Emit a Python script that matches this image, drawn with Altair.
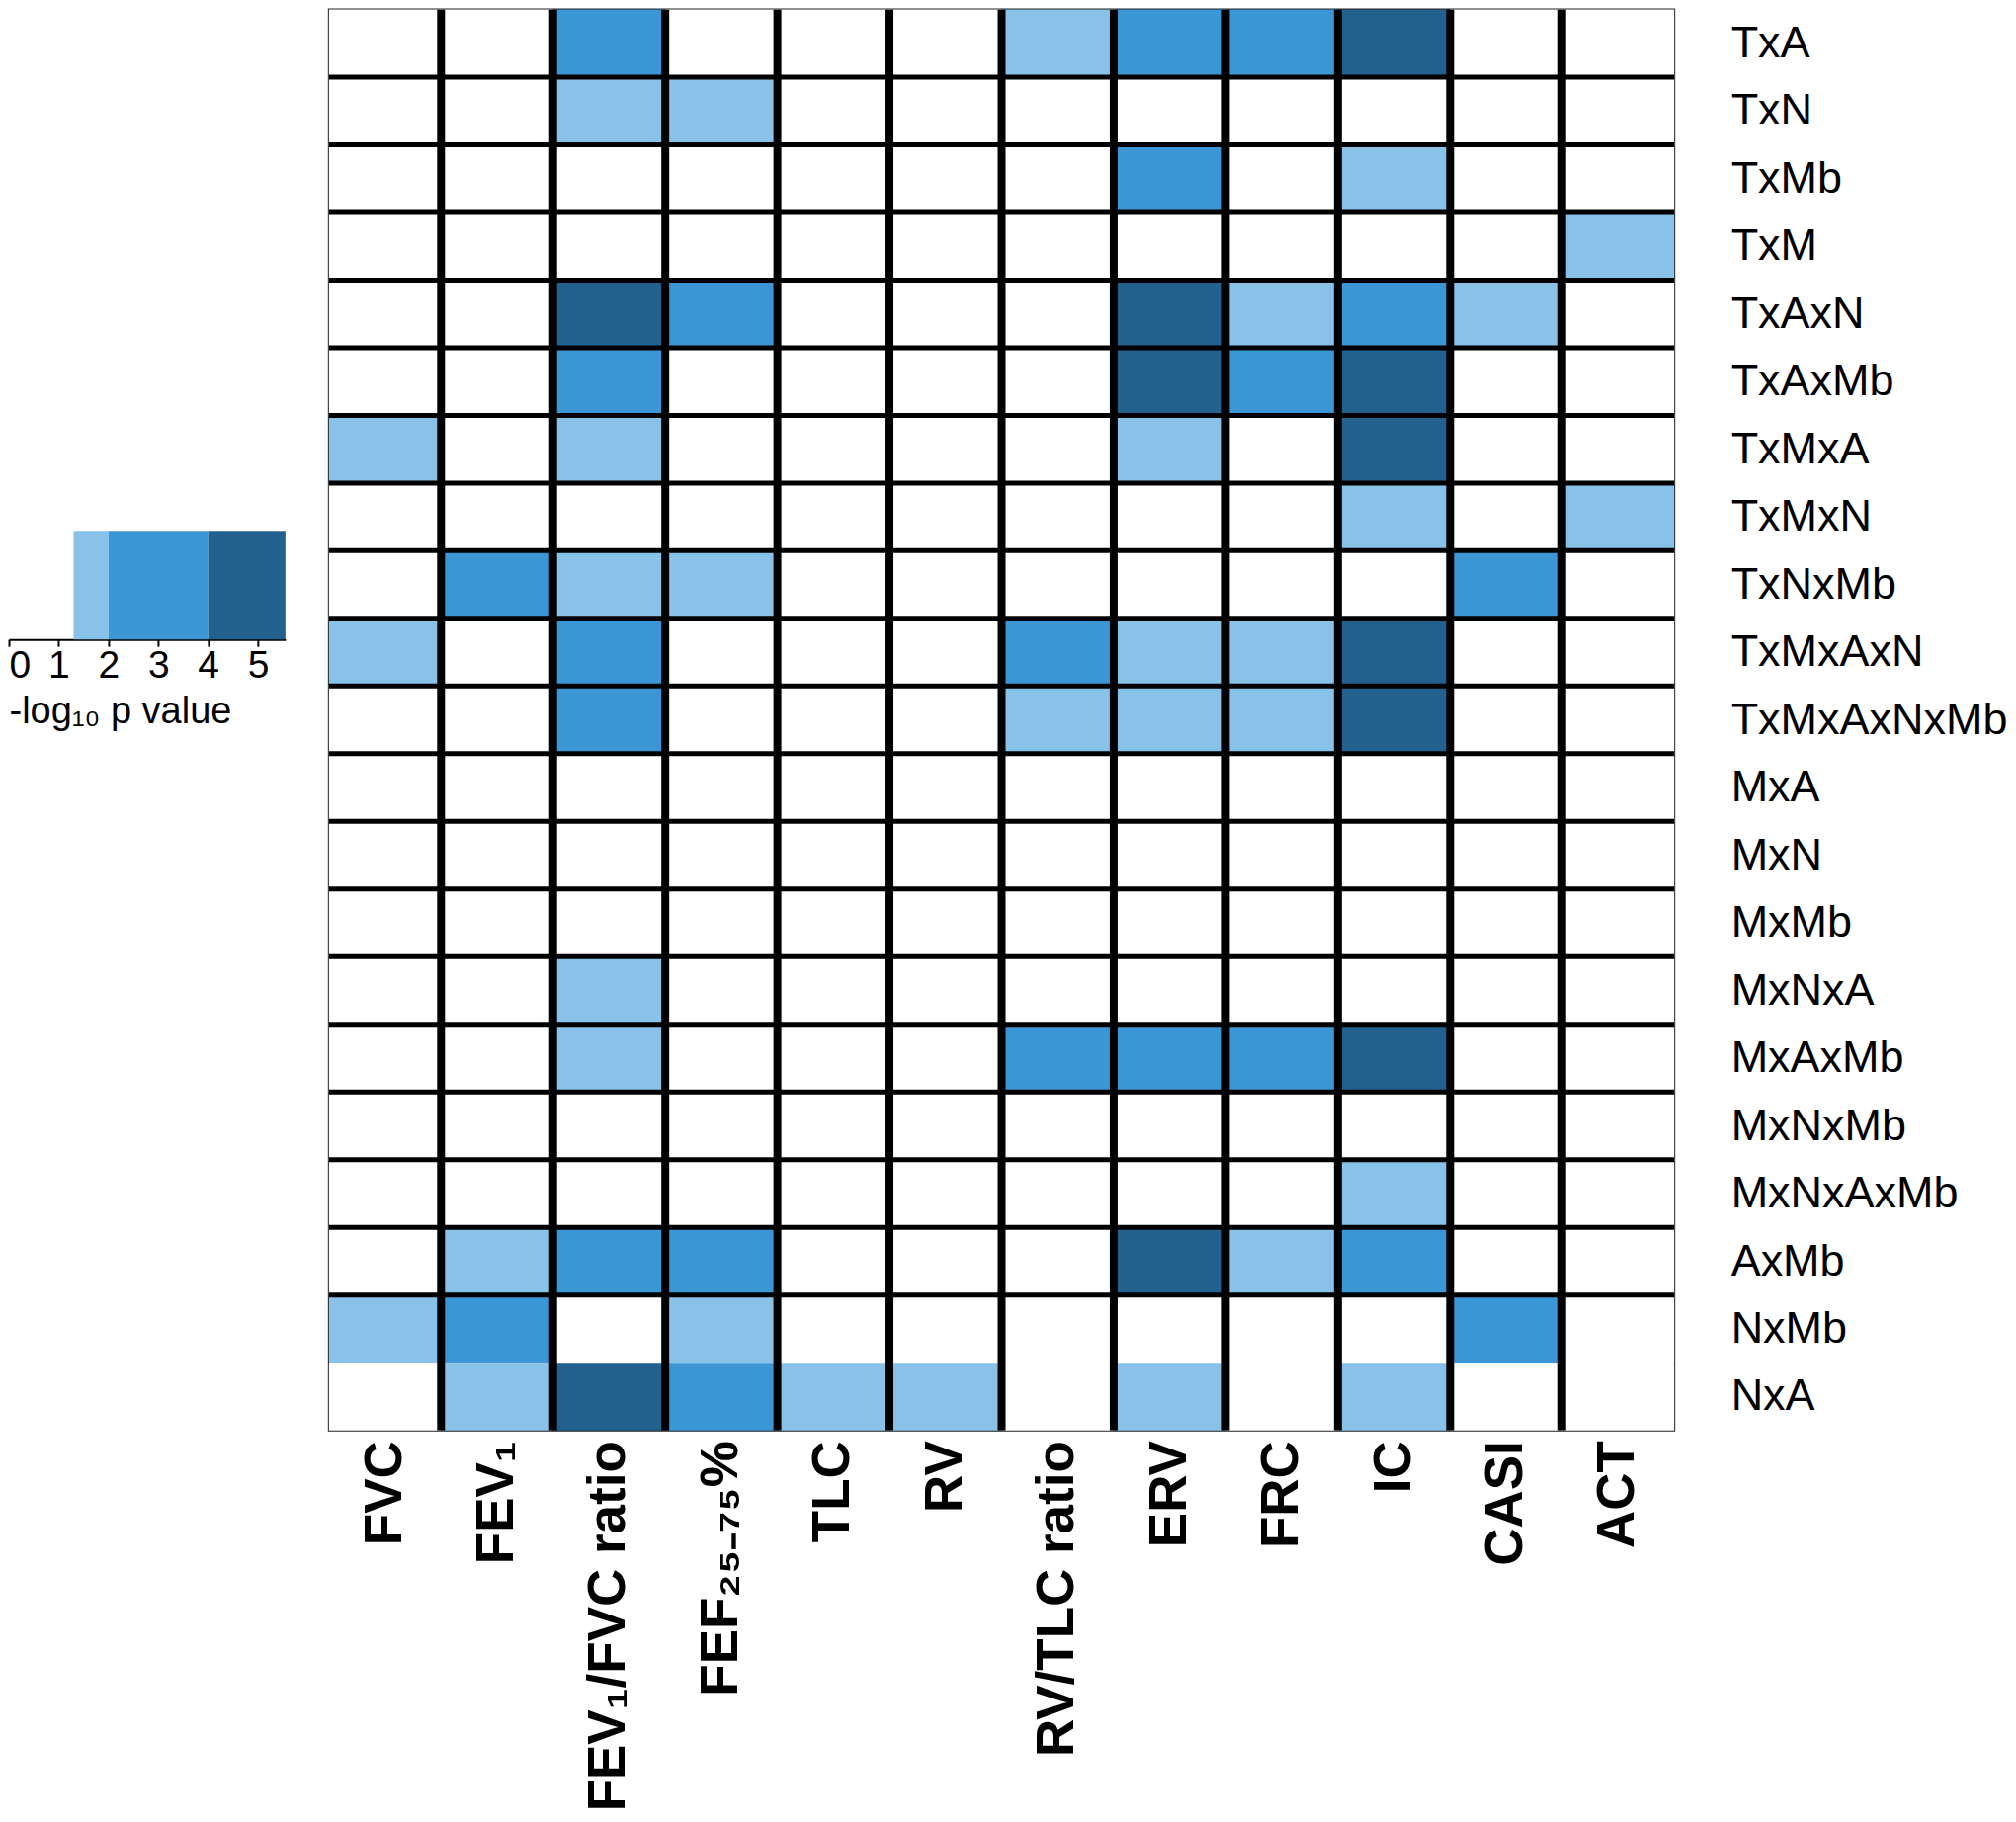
import altair as alt
import pandas as pd

# Rows (interaction terms) and columns (outcomes)
rows = ["TxA", "TxN", "TxMb", "TxM", "TxAxN", "TxAxMb", "TxMxA", "TxMxN", "TxNxMb",
        "TxMxAxN", "TxMxAxNxMb", "MxA", "MxN", "MxMb", "MxNxA", "MxAxMb", "MxNxMb",
        "MxNxAxMb", "AxMb", "NxMb", "NxA"]
columns = ["FVC", "FEV\u2081", "FEV\u2081/FVC ratio", "FEF\u2082\u2085\u208b\u2087\u2085%", "TLC", "RV",
           "RV/TLC ratio", "ERV", "FRC", "IC", "CASI", "ACT"]

# -log10 p values (estimated from the colour band of each cell; 0 = not significant)
FVC   = [0, 0, 0, 0, 0, 0, 1.6, 0, 0, 1.6, 0, 0, 0, 0, 0, 0, 0, 0, 0, 1.6, 0]
FEV1  = [0, 0, 0, 0, 0, 0, 0, 0, 3.0, 0, 0, 0, 0, 0, 0, 0, 0, 0, 1.6, 3.0, 1.6]
RATIO = [3.0, 1.6, 0, 0, 4.8, 3.0, 1.6, 0, 1.6, 3.0, 3.0, 0, 0, 0, 1.6, 1.6, 0, 0, 3.0, 0, 4.8]
FEF   = [0, 1.6, 0, 0, 3.0, 0, 0, 0, 1.6, 0, 0, 0, 0, 0, 0, 0, 0, 0, 3.0, 1.6, 3.0]
TLC   = [0, 0, 0, 0, 0, 0, 0, 0, 0, 0, 0, 0, 0, 0, 0, 0, 0, 0, 0, 0, 1.6]
RV    = [0, 0, 0, 0, 0, 0, 0, 0, 0, 0, 0, 0, 0, 0, 0, 0, 0, 0, 0, 0, 1.6]
RVTLC = [1.6, 0, 0, 0, 0, 0, 0, 0, 0, 3.0, 1.6, 0, 0, 0, 0, 3.0, 0, 0, 0, 0, 0]
ERV   = [3.0, 0, 3.0, 0, 4.8, 4.8, 1.6, 0, 0, 1.6, 1.6, 0, 0, 0, 0, 3.0, 0, 0, 4.8, 0, 1.6]
FRC   = [3.0, 0, 0, 0, 1.6, 3.0, 0, 0, 0, 1.6, 1.6, 0, 0, 0, 0, 3.0, 0, 0, 1.6, 0, 0]
IC    = [4.8, 0, 1.6, 0, 3.0, 4.8, 4.8, 1.6, 0, 4.8, 4.8, 0, 0, 0, 0, 4.8, 0, 1.6, 3.0, 0, 1.6]
CASI  = [0, 0, 0, 0, 1.6, 0, 0, 0, 3.0, 0, 0, 0, 0, 0, 0, 0, 0, 0, 0, 3.0, 0]
ACT   = [0, 0, 0, 1.6, 0, 0, 0, 1.6, 0, 0, 0, 0, 0, 0, 0, 0, 0, 0, 0, 0, 0]
col_values = [FVC, FEV1, RATIO, FEF, TLC, RV, RVTLC, ERV, FRC, IC, CASI, ACT]

# Colour thresholds (-log10 p) and colours
thresholds = [1.3, 2, 4]
colors = ["#ffffff", "#88c2e8", "#3a96d4", "#22618e"]
legend_lo = [1.3, 2, 4]
legend_hi = [2, 4, 5.55]
legend_lvl = ["a", "b", "c"]

FONT = "Liberation Sans"

cells = pd.DataFrame([
    {"col": c, "row": r, "val": v}
    for c, vals in zip(columns, col_values)
    for r, v in zip(rows, vals)
])
vlines = pd.DataFrame({"col": columns[1:]})
hlines = pd.DataFrame({"row": rows[1:-1]})

xscale = alt.Scale(domain=columns, paddingInner=0, paddingOuter=0)
yscale = alt.Scale(domain=rows, paddingInner=0, paddingOuter=0)

rects = alt.Chart(cells).mark_rect(strokeWidth=0).encode(
    x=alt.X("col:N", scale=xscale, sort=columns,
            axis=alt.Axis(orient="bottom", labelAngle=270, labelFontSize=53, labelFont=FONT,
                          labelFontWeight="bold", labelColor="black", labelPadding=10,
                          ticks=False, domain=False, title=None, labelLimit=0)),
    y=alt.Y("row:N", scale=yscale, sort=rows,
            axis=alt.Axis(orient="right", labelFontSize=45, labelFont=FONT, labelColor="black",
                          labelPadding=57, ticks=False, domain=False, title=None, labelLimit=0)),
    color=alt.Color("val:Q", scale=alt.Scale(type="threshold", domain=thresholds, range=colors),
                    legend=None),
)

vrules = alt.Chart(vlines).mark_rule(color="black", strokeWidth=8, clip=True).encode(
    x=alt.X("col:N", scale=xscale, sort=columns, bandPosition=0),
)
hrules = alt.Chart(hlines).mark_rule(color="black", strokeWidth=5, clip=True).encode(
    y=alt.Y("row:N", scale=yscale, sort=rows, bandPosition=0),
)

heatmap = alt.layer(rects, hrules, vrules).properties(
    width=1362, height=1439,
    view=alt.ViewBackground(stroke="#222222", strokeWidth=2),
)

# Colour key
legend_df = pd.DataFrame({"lo": legend_lo, "hi": legend_hi, "lvl": legend_lvl})
legend = alt.Chart(legend_df).mark_rect().encode(
    x=alt.X("lo:Q", scale=alt.Scale(domain=[0, 5.55], nice=False, zero=True),
            axis=alt.Axis(values=[0, 1, 2, 3, 4, 5], format="d", grid=False,
                          tickSize=7, tickWidth=2, tickColor="black",
                          domainColor="black", domainWidth=2,
                          labelFontSize=39, labelFont=FONT, labelColor="black",
                          labelPadding=0, labelFlush=True,
                          title="-log\u2081\u2080 p value", titleFont=FONT, titleFontSize=38,
                          titleFontWeight="normal", titleColor="black",
                          titleAnchor="start", titlePadding=8)),
    x2="hi:Q",
    color=alt.Color("lvl:N", scale=alt.Scale(domain=legend_lvl, range=colors[1:]), legend=None),
).properties(width=280, height=110, view=alt.ViewBackground(stroke=None))

spacer = alt.Chart(pd.DataFrame({"a": [0.5]})).mark_point(opacity=0, size=1).encode(
    x=alt.X("a:Q", axis=None, scale=alt.Scale(domain=[0, 1])),
    y=alt.Y("a:Q", axis=None, scale=alt.Scale(domain=[0, 1])),
).properties(width=280, height=528, view=alt.ViewBackground(stroke=None))

left = alt.vconcat(spacer, legend, spacing=0)

chart = alt.hconcat(left, heatmap, spacing=43).properties(
    padding=0, background="white"
).configure_view(stroke=None)

chart.save("out.html", embed_options={"renderer": "svg", "actions": False})
